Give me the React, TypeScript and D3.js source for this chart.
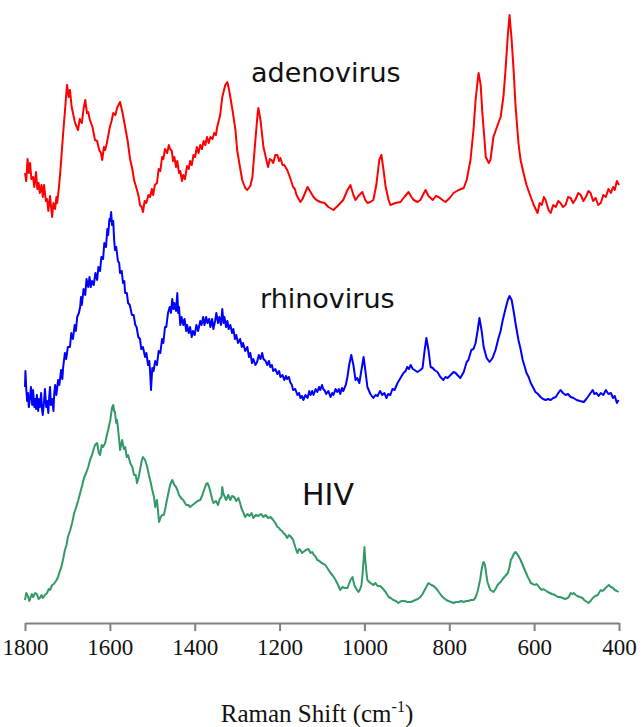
import React, { useEffect, useRef } from 'react'
import * as d3 from 'd3'

// Raman spectra, [wavenumber cm-1, intensity a.u. (offset stacked)]
const adenovirus: [number, number][] = [
  [1800, 21.6], [1797, 21.2], [1794, 22.3], [1791, 21.6], [1788, 22.1], [1785, 21.3], [1781, 21.4], [1778, 20.9],
  [1774, 21.65], [1771, 20.8], [1768, 21.1], [1765, 20.6], [1761, 21.0], [1758, 20.4], [1755, 21.0], [1751, 20.2],
  [1748, 20.3], [1745, 19.7], [1741, 20.45], [1738, 19.8], [1736, 19.4], [1733, 20.1], [1729, 19.8], [1726, 20.4],
  [1724, 20.1], [1720, 20.9], [1717, 21.6], [1710, 23.6], [1701, 26.0], [1697, 25.4], [1694, 25.75], [1690, 24.9],
  [1687, 24.6], [1683, 24.2], [1680, 24.0], [1675, 23.75], [1671, 24.3], [1666, 24.1], [1662, 24.8], [1658, 25.25],
  [1654, 24.6], [1651, 24.65], [1647, 24.25], [1641, 23.9], [1635, 23.25], [1630, 23.2], [1625, 22.75], [1621, 22.6],
  [1618, 22.25], [1614, 22.9], [1611, 22.75], [1607, 23.1], [1600, 23.9], [1596, 24.2], [1592, 24.6], [1587, 24.5],
  [1583, 24.85], [1576, 25.15], [1570, 24.6], [1564, 23.9], [1558, 23.2], [1552, 22.25], [1547, 21.8], [1543, 21.25],
  [1536, 20.75], [1532, 20.4], [1529, 20.0], [1525, 19.9], [1522, 19.65], [1518, 20.2], [1514, 20.1], [1509, 20.5],
  [1505, 20.4], [1501, 20.8], [1498, 20.5], [1494, 21.0], [1489, 21.1], [1485, 21.8], [1481, 21.7], [1477, 22.4],
  [1474, 22.3], [1470, 22.8], [1465, 22.6], [1461, 23.0], [1458, 22.8], [1454, 22.7], [1451, 22.2], [1448, 22.4],
  [1444, 21.9], [1441, 22.2], [1437, 21.6], [1434, 21.7], [1430, 21.2], [1427, 21.5], [1423, 21.3], [1418, 21.95],
  [1414, 21.8], [1411, 22.2], [1407, 22.0], [1403, 22.5], [1399, 22.4], [1395, 22.9], [1391, 22.6], [1387, 23.0],
  [1383, 22.8], [1379, 23.2], [1375, 23.0], [1371, 23.4], [1367, 23.1], [1363, 23.4], [1358, 23.3], [1354, 23.6],
  [1350, 23.5], [1347, 23.9], [1340, 24.5], [1335, 25.4], [1328, 26.0], [1323, 26.15], [1319, 25.75], [1311, 24.75],
  [1304, 23.75], [1300, 22.75], [1293, 21.85], [1288, 21.25], [1281, 20.85], [1276, 20.75], [1269, 20.95], [1264, 21.4],
  [1257, 23.25], [1252, 24.5], [1250, 24.85], [1245, 24.25], [1238, 22.9], [1231, 22.25], [1227, 21.9], [1223, 22.3],
  [1219, 22.25], [1215, 22.1], [1210, 22.5], [1205, 22.5], [1201, 22.2], [1198, 22.35], [1193, 22.0], [1189, 22.0],
  [1182, 21.75], [1175, 21.35], [1168, 20.9], [1164, 20.8], [1160, 20.5], [1155, 20.3], [1151, 20.15], [1146, 20.3],
  [1142, 20.5], [1134, 20.9], [1127, 20.65], [1120, 20.4], [1113, 20.25], [1104, 20.15], [1094, 20.1], [1085, 19.9],
  [1073, 19.75], [1061, 20.0], [1050, 20.25], [1040, 20.75], [1033, 21.0], [1026, 20.5], [1021, 20.25], [1014, 20.45],
  [1005, 20.65], [998, 20.25], [993, 20.1], [986, 20.15], [979, 20.25], [972, 21.0], [965, 22.25], [960, 22.5],
  [955, 21.75], [950, 20.9], [943, 20.25], [939, 20.0], [927, 20.1], [915, 20.15], [906, 20.4], [896, 20.65],
  [889, 20.4], [884, 20.25], [875, 20.15], [868, 20.25], [861, 20.55], [856, 20.75], [849, 20.45], [839, 20.25],
  [832, 20.45], [825, 20.4], [816, 20.25], [809, 20.15], [799, 20.35], [790, 20.6], [778, 20.75], [766, 20.85],
  [759, 21.25], [750, 22.25], [743, 23.75], [738, 25.25], [733, 26.25], [731, 26.6], [726, 26.0], [722, 24.6],
  [717, 23.25], [714, 22.4], [707, 22.1], [703, 22.25], [696, 23.4], [686, 24.0], [679, 24.4], [672, 25.5],
  [667, 26.9], [662, 28.5], [658, 29.5], [653, 28.25], [648, 26.6], [644, 25.0], [637, 23.1], [632, 22.25],
  [625, 21.6], [618, 21.0], [608, 20.4], [601, 20.0], [592, 19.6], [587, 20.1], [582, 20.0], [577, 20.4],
  [573, 20.25], [566, 19.75], [561, 19.6], [555, 20.0], [549, 19.9], [543, 20.2], [538, 20.1], [532, 19.9],
  [526, 20.0], [520, 20.4], [514, 20.35], [508, 20.1], [502, 20.3], [496, 20.6], [490, 20.5], [484, 20.2],
  [478, 20.4], [472, 20.7], [467, 20.6], [461, 20.2], [455, 20.35], [449, 20.0], [443, 20.1], [437, 20.5],
  [431, 20.4], [425, 20.8], [419, 20.6], [414, 20.9], [410, 20.75], [405, 21.2], [400, 21.0],
]

const rhinovirus: [number, number][] = [
  [1800, 10.9], [1799, 11.7], [1797, 10.8], [1795, 10.2], [1793, 10.6], [1791, 9.9], [1788, 10.4], [1786, 10.9],
  [1783, 10.0], [1781, 10.75], [1778, 9.9], [1776, 10.3], [1774, 9.8], [1772, 10.5], [1769, 9.7], [1767, 10.3],
  [1765, 9.9], [1762, 10.6], [1760, 9.8], [1758, 9.5], [1755, 10.2], [1753, 10.8], [1750, 9.9], [1748, 10.2],
  [1745, 9.6], [1743, 10.4], [1741, 10.9], [1739, 10.0], [1736, 10.3], [1733, 9.7], [1731, 10.6], [1729, 11.0],
  [1726, 10.5], [1722, 11.25], [1719, 11.0], [1715, 11.75], [1712, 11.3], [1710, 11.9], [1706, 12.6], [1703, 12.3],
  [1699, 12.9], [1694, 12.9], [1691, 13.6], [1687, 13.3], [1683, 14.0], [1680, 13.7], [1677, 14.4], [1673, 14.6],
  [1670, 14.9], [1668, 15.4], [1666, 15.0], [1662, 15.8], [1658, 15.5], [1655, 16.3], [1651, 15.9], [1648, 16.4],
  [1645, 15.9], [1642, 16.2], [1638, 16.0], [1634, 16.6], [1630, 16.25], [1627, 16.9], [1623, 16.7], [1620, 17.4],
  [1616, 17.3], [1613, 18.1], [1609, 17.9], [1606, 18.8], [1604, 18.5], [1601, 19.3], [1599, 19.2], [1597, 19.65],
  [1595, 19.0], [1592, 19.2], [1590, 18.3], [1588, 17.75], [1585, 17.9], [1581, 17.2], [1578, 17.1], [1576, 16.6],
  [1572, 16.7], [1569, 16.1], [1566, 16.2], [1564, 15.6], [1560, 15.6], [1557, 15.1], [1553, 15.0], [1548, 14.5],
  [1544, 14.5], [1540, 14.0], [1537, 13.9], [1533, 13.4], [1529, 13.3], [1526, 12.8], [1522, 12.9], [1517, 12.4],
  [1514, 12.6], [1510, 12.0], [1507, 12.2], [1505, 11.6], [1503, 10.75], [1500, 11.85], [1497, 11.7], [1493, 12.2],
  [1489, 12.0], [1485, 12.7], [1481, 12.6], [1477, 13.3], [1474, 13.1], [1470, 13.9], [1467, 13.9], [1463, 14.6],
  [1459, 14.9], [1456, 14.6], [1453, 15.3], [1450, 14.8], [1448, 15.1], [1444, 14.7], [1441, 15.6], [1439, 14.6],
  [1437, 14.9], [1434, 14.0], [1431, 14.4], [1427, 14.0], [1424, 14.3], [1420, 13.7], [1418, 14.0], [1414, 13.6],
  [1411, 13.9], [1407, 13.4], [1404, 13.7], [1400, 13.5], [1396, 14.0], [1392, 13.7], [1387, 14.2], [1384, 14.0],
  [1380, 14.4], [1377, 14.0], [1373, 14.4], [1370, 14.1], [1366, 14.3], [1363, 13.9], [1359, 14.3], [1356, 13.8],
  [1352, 14.2], [1349, 14.6], [1345, 14.1], [1342, 14.4], [1338, 14.0], [1335, 14.8], [1332, 14.1], [1330, 14.4],
  [1326, 13.9], [1323, 14.2], [1320, 13.8], [1316, 14.0], [1312, 13.6], [1309, 13.8], [1305, 13.3], [1302, 13.5],
  [1298, 13.1], [1293, 13.3], [1289, 12.9], [1286, 13.1], [1281, 12.7], [1276, 12.9], [1272, 12.4], [1269, 12.6],
  [1265, 12.1], [1262, 12.3], [1257, 12.0], [1253, 12.15], [1249, 12.5], [1245, 12.3], [1241, 12.6], [1238, 12.3],
  [1233, 12.2], [1229, 12.0], [1225, 12.2], [1222, 11.9], [1218, 12.0], [1215, 11.7], [1210, 11.8], [1205, 11.55],
  [1201, 11.7], [1198, 11.4], [1193, 11.5], [1189, 11.25], [1185, 11.45], [1182, 11.3], [1178, 11.4], [1175, 11.15],
  [1171, 11.0], [1168, 10.75], [1163, 10.8], [1158, 10.5], [1154, 10.6], [1151, 10.35], [1147, 10.45], [1144, 10.25],
  [1139, 10.5], [1134, 10.35], [1130, 10.7], [1127, 10.5], [1123, 10.7], [1120, 10.5], [1115, 10.8], [1111, 10.65],
  [1107, 10.9], [1104, 10.75], [1100, 11.0], [1097, 10.8], [1093, 10.7], [1090, 10.55], [1085, 10.7], [1080, 10.4],
  [1076, 10.6], [1073, 10.5], [1068, 10.8], [1064, 10.65], [1060, 10.8], [1057, 10.55], [1053, 10.85], [1050, 10.7],
  [1044, 11.0], [1040, 11.4], [1036, 12.0], [1031, 12.5], [1026, 12.0], [1021, 11.25], [1017, 11.35], [1012, 11.1],
  [1007, 11.75], [1002, 12.4], [998, 11.75], [993, 10.9], [986, 10.55], [979, 10.35], [974, 10.5], [969, 10.45],
  [963, 10.7], [958, 10.5], [953, 10.6], [948, 10.35], [944, 10.55], [939, 10.5], [934, 10.8], [929, 10.75],
  [922, 11.1], [915, 11.35], [908, 11.6], [903, 11.7], [899, 11.9], [895, 11.8], [891, 12.0], [886, 11.8],
  [882, 11.75], [875, 11.65], [868, 11.75], [863, 11.85], [858, 12.75], [854, 13.35], [849, 12.75], [844, 11.9],
  [839, 11.85], [835, 11.75], [828, 11.65], [821, 11.4], [814, 11.25], [809, 11.4], [804, 11.35], [797, 11.5],
  [790, 11.65], [785, 11.6], [781, 11.5], [774, 11.35], [770, 11.5], [766, 11.65], [759, 12.15], [755, 12.25],
  [748, 12.75], [743, 12.8], [738, 13.1], [733, 13.75], [729, 14.35], [724, 13.75], [719, 12.9], [712, 12.35],
  [705, 12.15], [698, 12.35], [691, 12.75], [684, 13.35], [679, 13.7], [674, 14.25], [667, 14.85], [662, 15.25],
  [658, 15.45], [653, 15.25], [648, 14.65], [644, 14.1], [637, 13.25], [632, 12.8], [627, 12.25], [622, 11.9],
  [618, 11.6], [613, 11.4], [608, 11.1], [603, 10.9], [597, 10.65], [591, 10.55], [585, 10.4], [579, 10.3],
  [573, 10.25], [567, 10.3], [561, 10.25], [555, 10.35], [549, 10.4], [543, 10.6], [538, 10.75], [532, 10.6],
  [526, 10.5], [520, 10.55], [514, 10.4], [507, 10.35], [500, 10.25], [492, 10.2], [483, 10.15], [477, 10.3],
  [472, 10.45], [467, 10.6], [462, 10.75], [458, 10.55], [453, 10.6], [448, 10.45], [443, 10.6], [437, 10.5],
  [431, 10.75], [425, 10.55], [419, 10.6], [414, 10.35], [410, 10.45], [405, 10.1], [401, 10.25],
]

const hiv: [number, number][] = [
  [1800, 0.25], [1797, 0.6], [1793, 0.45], [1790, 0.2], [1788, 0.3], [1784, 0.55], [1781, 0.4], [1776, 0.6],
  [1772, 0.55], [1768, 0.3], [1765, 0.35], [1761, 0.5], [1758, 0.35], [1753, 0.5], [1748, 0.6], [1744, 0.8],
  [1741, 0.75], [1736, 1.0], [1732, 1.05], [1727, 1.2], [1722, 1.4], [1718, 1.7], [1715, 1.85], [1710, 2.3],
  [1706, 2.75], [1702, 3.0], [1699, 3.4], [1694, 3.7], [1689, 4.1], [1684, 4.6], [1680, 4.85], [1675, 5.2],
  [1670, 5.6], [1665, 6.0], [1661, 6.35], [1656, 6.6], [1651, 6.9], [1646, 7.3], [1642, 7.5], [1638, 7.8],
  [1635, 8.0], [1630, 8.1], [1626, 7.6], [1623, 7.5], [1619, 8.0], [1616, 7.9], [1611, 8.1], [1607, 8.5],
  [1604, 8.75], [1599, 9.25], [1595, 9.85], [1592, 10.0], [1590, 9.7], [1588, 9.65], [1585, 9.1], [1583, 9.25],
  [1578, 8.25], [1576, 7.75], [1571, 8.25], [1567, 7.8], [1564, 7.9], [1560, 7.4], [1557, 7.5], [1552, 7.1],
  [1547, 6.9], [1543, 6.5], [1539, 6.5], [1536, 6.1], [1532, 6.4], [1529, 6.75], [1525, 7.2], [1522, 7.4],
  [1517, 7.25], [1512, 6.9], [1508, 6.5], [1505, 6.25], [1500, 5.75], [1496, 5.4], [1493, 4.9], [1489, 5.25],
  [1486, 4.6], [1484, 4.15], [1480, 4.4], [1477, 4.5], [1473, 4.5], [1470, 4.75], [1466, 5.2], [1463, 5.5],
  [1458, 6.0], [1453, 6.25], [1448, 6.0], [1444, 5.9], [1441, 5.75], [1437, 5.5], [1434, 5.4], [1430, 5.3],
  [1427, 5.25], [1423, 5.1], [1420, 5.0], [1415, 5.0], [1411, 4.9], [1405, 5.0], [1399, 5.1], [1393, 5.2],
  [1387, 5.25], [1382, 5.5], [1378, 5.75], [1373, 6.05], [1370, 6.1], [1366, 5.9], [1363, 5.65], [1359, 5.3],
  [1356, 5.1], [1350, 5.2], [1345, 5.0], [1341, 5.3], [1337, 5.4], [1335, 5.9], [1333, 5.6], [1329, 5.4],
  [1326, 5.25], [1321, 5.5], [1316, 5.25], [1312, 5.45], [1307, 5.4], [1302, 5.2], [1297, 5.35], [1293, 5.1],
  [1290, 4.85], [1285, 4.6], [1281, 4.4], [1276, 4.55], [1271, 4.45], [1266, 4.6], [1262, 4.35], [1256, 4.5],
  [1250, 4.45], [1244, 4.55], [1238, 4.4], [1233, 4.5], [1227, 4.35], [1221, 4.4], [1215, 4.25], [1210, 4.1],
  [1205, 3.9], [1201, 3.85], [1198, 3.75], [1194, 3.7], [1191, 3.6], [1186, 3.5], [1182, 3.35], [1178, 3.5],
  [1175, 3.45], [1171, 3.35], [1168, 3.25], [1163, 2.9], [1158, 2.6], [1154, 2.8], [1151, 2.75], [1147, 2.6],
  [1144, 2.65], [1138, 2.75], [1132, 2.8], [1127, 2.6], [1123, 2.65], [1119, 2.5], [1116, 2.45], [1111, 2.25],
  [1106, 2.2], [1101, 2.1], [1096, 2.05], [1092, 2.0], [1086, 1.8], [1080, 1.6], [1074, 1.45], [1068, 1.25],
  [1062, 1.0], [1057, 0.75], [1052, 0.9], [1047, 0.85], [1040, 0.85], [1033, 1.25], [1028, 1.4], [1024, 1.0],
  [1019, 0.8], [1014, 0.65], [1010, 0.8], [1007, 1.0], [1005, 1.4], [1002, 2.25], [1000, 2.9], [998, 2.25],
  [995, 1.6], [993, 1.25], [986, 1.1], [979, 1.0], [974, 1.1], [969, 0.95], [963, 0.95], [958, 0.85],
  [950, 0.65], [943, 0.4], [938, 0.35], [932, 0.25], [926, 0.2], [920, 0.1], [913, 0.2], [906, 0.2],
  [898, 0.15], [891, 0.15], [885, 0.2], [880, 0.25], [874, 0.3], [868, 0.4], [863, 0.55], [858, 0.75],
  [853, 0.95], [849, 1.1], [846, 1.05], [842, 1.0], [837, 0.95], [832, 0.85], [828, 0.75], [823, 0.6],
  [818, 0.45], [813, 0.35], [807, 0.25], [802, 0.2], [796, 0.15], [790, 0.1], [784, 0.15], [778, 0.15],
  [772, 0.2], [766, 0.15], [760, 0.2], [755, 0.2], [749, 0.25], [743, 0.25], [739, 0.35], [736, 0.5],
  [733, 0.7], [731, 0.9], [727, 1.3], [724, 1.75], [721, 2.05], [719, 2.15], [716, 2.0], [714, 1.75],
  [712, 1.4], [710, 1.15], [706, 0.9], [703, 0.75], [699, 0.7], [696, 0.65], [691, 0.8], [686, 1.0],
  [682, 1.1], [679, 1.15], [674, 1.3], [670, 1.4], [666, 1.5], [662, 1.6], [658, 1.9], [655, 2.25],
  [651, 2.4], [648, 2.55], [644, 2.65], [640, 2.55], [637, 2.45], [632, 2.25], [627, 2.0], [622, 1.75],
  [618, 1.55], [615, 1.4], [611, 1.25], [608, 1.1], [603, 1.05], [599, 1.0], [595, 1.05], [592, 1.0],
  [587, 0.85], [582, 0.75], [578, 0.8], [575, 0.75], [571, 0.7], [568, 0.65], [563, 0.6], [558, 0.55],
  [551, 0.5], [544, 0.4], [538, 0.4], [533, 0.35], [527, 0.3], [521, 0.35], [517, 0.45], [514, 0.6],
  [510, 0.55], [507, 0.6], [502, 0.5], [498, 0.45], [492, 0.4], [486, 0.35], [482, 0.25], [479, 0.2],
  [475, 0.15], [472, 0.1], [467, 0.2], [462, 0.35], [456, 0.45], [450, 0.5], [446, 0.65], [443, 0.75],
  [439, 0.7], [436, 0.75], [432, 0.85], [429, 0.9], [424, 1.0], [419, 0.9], [414, 0.85], [410, 0.75],
  [405, 0.7], [401, 0.65],
]

const seriesNames = ['adenovirus', 'rhinovirus', 'HIV']
const seriesColors = ['#ff0000', '#0000ff', '#339966']
const xTicks = [1800, 1600, 1400, 1200, 1000, 800, 600, 400]

const WIDTH = 643
const HEIGHT = 727

const App = () => {
  const ref = useRef<SVGSVGElement>(null)

  useEffect(() => {
    const svg = d3.select(ref.current)
    svg.selectAll('*').remove()

    const xScale = d3.scaleLinear().domain([1800, 400]).range([25, 619])
    const yScale = d3.scaleLinear().domain([0, 30]).range([605, 5])

    const line = d3
      .line<[number, number]>()
      .x(d => xScale(d[0]))
      .y(d => yScale(d[1]))

    const data = [adenovirus, rhinovirus, hiv]

    svg
      .selectAll('path.spectrum')
      .data(data)
      .enter()
      .append('path')
      .attr('class', 'spectrum')
      .attr('d', d => line(d))
      .attr('fill', 'none')
      .attr('stroke', (d, i) => seriesColors[i])
      .attr('stroke-width', 2)
      .attr('stroke-linejoin', 'round')

    // series labels
    const labels = [
      { x: 251, y: 82, size: 27 },
      { x: 260, y: 308, size: 27 },
      { x: 302, y: 505, size: 30 },
    ]
    svg
      .selectAll('text.series')
      .data(labels)
      .enter()
      .append('text')
      .attr('class', 'series')
      .attr('x', d => d.x)
      .attr('y', d => d.y)
      .attr('font-family', 'DejaVu Sans')
      .attr('font-size', d => d.size)
      .attr('fill', '#111')
      .text((d, i) => seriesNames[i])

    const axis = svg
      .append('g')
      .attr('transform', 'translate(0, 623)')
      .call(d3.axisBottom(xScale).tickValues(xTicks).tickSize(8).tickSizeOuter(0).tickFormat(d3.format('d')))

    axis.select('.domain').attr('stroke', '#808080').attr('stroke-width', 2)
    axis.selectAll('.tick line').attr('stroke', '#808080').attr('stroke-width', 2)
    axis
      .selectAll('.tick text')
      .attr('y', 32)
      .attr('dy', null)
      .attr('fill', '#111')
      .attr('font-family', 'Liberation Serif')
      .attr('font-size', 23)

    const title = svg
      .append('text')
      .attr('x', 317)
      .attr('y', 722)
      .attr('text-anchor', 'middle')
      .attr('font-family', 'Liberation Serif')
      .attr('font-size', 25)
      .attr('fill', '#111')
    title.append('tspan').text('Raman Shift (cm')
    title.append('tspan').attr('font-size', 16).attr('dy', -10).text('-1')
    title.append('tspan').attr('dy', 10).text(')')
  }, [])

  return (
    <div style={{ position: 'absolute', left: 0, top: 0 }}>
      <svg ref={ref} width={WIDTH} height={HEIGHT} style={{ display: 'block', background: '#fff' }}></svg>
    </div>
  )
}

export default App
